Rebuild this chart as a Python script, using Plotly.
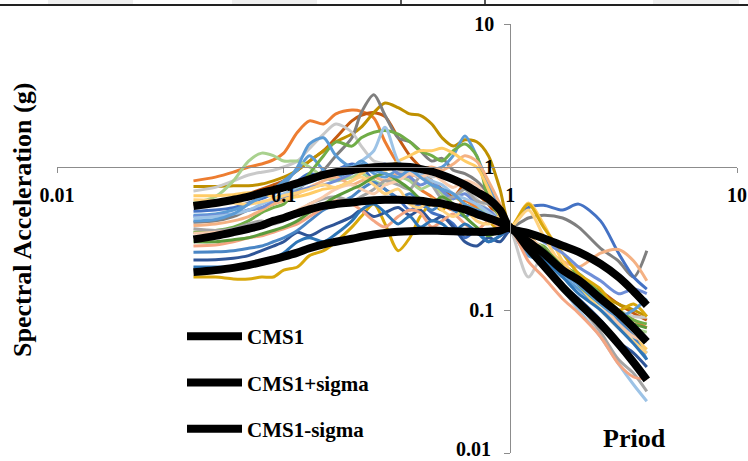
import plotly.graph_objects as go

# Periods (s)
periods = [0.04, 0.05, 0.06, 0.07, 0.08, 0.09, 0.1, 0.115, 0.13, 0.15, 0.17, 0.2, 0.22, 0.25, 0.28,
           0.32, 0.36, 0.4, 0.45, 0.5, 0.56, 0.63, 0.71, 0.8, 0.9, 1.0, 1.2, 1.4, 1.7, 2.0, 2.5,
           3.0, 3.5, 4.0]

# CMS curves (g)
cms1 = [0.312, 0.33, 0.35, 0.37, 0.39, 0.42, 0.44, 0.475, 0.505, 0.535, 0.55, 0.565, 0.575, 0.585,
        0.59, 0.59, 0.585, 0.58, 0.565, 0.555, 0.53, 0.505, 0.47, 0.44, 0.41, 0.375, 0.3, 0.25,
        0.19, 0.162, 0.12, 0.095, 0.075, 0.06]
cms1_plus = [0.534, 0.56, 0.59, 0.62, 0.66, 0.69, 0.72, 0.77, 0.82, 0.88, 0.92, 0.95, 0.975, 0.995,
             1.005, 1.01, 1.0, 0.97, 0.93, 0.88, 0.82, 0.75, 0.67, 0.6, 0.5, 0.375, 0.345, 0.318,
             0.282, 0.255, 0.21, 0.17, 0.135, 0.108]
cms1_minus = [0.184, 0.19, 0.197, 0.206, 0.216, 0.226, 0.236, 0.252, 0.27, 0.288, 0.3, 0.315, 0.325,
              0.337, 0.345, 0.352, 0.356, 0.358, 0.358, 0.357, 0.355, 0.353, 0.352, 0.352, 0.358,
              0.375, 0.27, 0.205, 0.145, 0.112, 0.08, 0.058, 0.043, 0.0325]

# Ground-motion record spectra (g)
rec01 = [0.80, 0.85, 0.92, 1.0, 1.05, 1.12, 1.25, 1.75, 2.1, 2.0, 2.35, 2.5, 2.45, 2.2, 1.5, 1.05,
         0.85, 0.7, 0.62, 0.55, 0.5, 0.58, 0.52, 0.45, 0.4, 0.37, 0.3, 0.24, 0.19, 0.16, 0.12, 0.1,
         0.085, 0.075]
rec02 = [0.55, 0.56, 0.6, 0.65, 0.7, 0.75, 0.8, 0.95, 1.1, 1.3, 1.6, 2.1, 2.3, 2.4, 2.25, 1.6, 1.2,
         1.0, 0.8, 0.7, 0.62, 0.75, 0.65, 0.55, 0.42, 0.37, 0.3, 0.27, 0.2, 0.16, 0.135, 0.11,
         0.095, 0.085]
rec03 = [0.73, 0.73, 0.74, 0.74, 0.76, 0.8, 0.85, 0.95, 1.1, 1.3, 1.5, 1.7, 1.9, 2.4, 2.8, 2.6,
         2.35, 2.3, 2.0, 1.6, 1.4, 1.55, 1.5, 1.2, 0.7, 0.38, 0.33, 0.26, 0.21, 0.17, 0.13, 0.11,
         0.1, 0.09]
rec04 = [0.41, 0.42, 0.45, 0.5, 0.52, 0.55, 0.6, 0.7, 0.8, 0.95, 1.2, 1.6, 2.4, 3.2, 2.3, 1.6, 1.5,
         1.3, 1.1, 1.15, 0.95, 0.9, 0.8, 0.65, 0.5, 0.38, 0.44, 0.46, 0.44, 0.38, 0.27, 0.22, 0.17,
         0.26]
rec05 = [0.49, 0.5, 0.52, 0.56, 0.6, 0.65, 0.7, 0.8, 0.9, 0.85, 0.95, 1.05, 1.0, 0.8, 0.7, 0.6, 0.5,
         0.55, 0.48, 0.45, 0.4, 0.32, 0.36, 0.3, 0.33, 0.37, 0.52, 0.54, 0.5, 0.55, 0.42, 0.25, 0.17,
         0.14]
rec06 = [0.46, 0.47, 0.5, 0.55, 0.62, 0.7, 0.8, 0.95, 1.2, 0.95, 0.85, 0.95, 1.05, 0.9, 0.85, 0.95,
         0.9, 0.85, 0.95, 1.0, 1.2, 1.65, 1.2, 0.75, 0.5, 0.37, 0.24, 0.22, 0.17, 0.14, 0.1, 0.075,
         0.06, 0.05]
rec07 = [0.68, 0.72, 0.8, 0.88, 0.92, 0.95, 1.0, 1.1, 1.35, 1.7, 2.0, 1.75, 1.4, 1.1, 1.05, 0.95,
         0.9, 0.95, 0.85, 0.9, 0.8, 0.75, 0.6, 0.5, 0.45, 0.37, 0.17, 0.24, 0.2, 0.17, 0.12, 0.1,
         0.09, 0.089]
rec08 = [0.56, 0.62, 0.8, 1.1, 1.25, 1.2, 1.1, 1.1, 1.0, 0.85, 0.8, 0.85, 0.9, 0.8, 0.75, 0.85, 0.8,
         0.7, 0.75, 0.65, 0.6, 0.7, 0.55, 0.45, 0.4, 0.37, 0.3, 0.25, 0.2, 0.15, 0.11, 0.09, 0.075,
         0.07]
rec09 = [0.35, 0.36, 0.38, 0.42, 0.48, 0.52, 0.55, 0.7, 0.9, 1.2, 1.5, 1.4, 1.6, 1.75, 1.8, 1.7,
         1.5, 1.3, 1.2, 1.1, 1.3, 1.45, 1.2, 0.6, 0.45, 0.37, 0.3, 0.28, 0.2, 0.18, 0.13, 0.1,
         0.085, 0.08]
rec10 = [0.39, 0.4, 0.42, 0.45, 0.5, 0.55, 0.58, 0.65, 0.72, 0.8, 0.85, 0.75, 0.8, 0.85, 0.8, 0.9,
         0.85, 0.95, 1.0, 0.95, 1.05, 1.2, 1.1, 0.8, 0.55, 0.38, 0.3, 0.27, 0.22, 0.2, 0.25, 0.265,
         0.22, 0.16]
rec11 = [0.63, 0.63, 0.64, 0.66, 0.65, 0.62, 0.6, 0.62, 0.65, 0.7, 0.72, 0.8, 0.9, 1.0, 0.95, 1.1,
         1.2, 1.3, 1.3, 1.35, 1.25, 1.1, 1.0, 0.7, 0.45, 0.38, 0.56, 0.4, 0.22, 0.16, 0.11, 0.085,
         0.065, 0.053]
rec12 = [0.17, 0.17, 0.165, 0.165, 0.17, 0.17, 0.19, 0.2, 0.24, 0.26, 0.3, 0.38, 0.45, 0.55, 0.4,
         0.26, 0.32, 0.45, 0.55, 0.5, 0.62, 0.55, 0.5, 0.42, 0.36, 0.37, 0.55, 0.38, 0.25, 0.18,
         0.14, 0.1, 0.11, 0.09]
rec13 = [0.224, 0.225, 0.23, 0.24, 0.26, 0.28, 0.3, 0.35, 0.33, 0.37, 0.4, 0.45, 0.5, 0.45, 0.48,
         0.52, 0.46, 0.5, 0.42, 0.45, 0.38, 0.3, 0.28, 0.32, 0.3, 0.36, 0.3, 0.22, 0.15, 0.12, 0.085,
         0.06, 0.05, 0.04]
rec14 = [0.253, 0.255, 0.26, 0.27, 0.28, 0.3, 0.32, 0.36, 0.42, 0.5, 0.55, 0.62, 0.7, 0.78, 0.7,
         0.6, 0.65, 0.58, 0.5, 0.55, 0.5, 0.45, 0.5, 0.45, 0.4, 0.37, 0.27, 0.25, 0.2, 0.16, 0.12,
         0.085, 0.065, 0.045]
rec15 = [0.45, 0.46, 0.47, 0.5, 0.52, 0.58, 0.62, 0.68, 0.72, 0.75, 0.8, 0.9, 1.0, 0.95, 1.05, 0.9,
         0.85, 0.75, 0.8, 0.68, 0.6, 0.65, 0.55, 0.5, 0.42, 0.37, 0.35, 0.3, 0.25, 0.2, 0.16, 0.13,
         0.14, 0.13]
rec16 = [0.44, 0.45, 0.47, 0.5, 0.55, 0.6, 0.65, 0.72, 0.78, 0.85, 0.9, 1.0, 1.1, 1.3, 1.9, 1.1,
         0.95, 0.9, 0.8, 0.75, 0.65, 0.6, 0.55, 0.48, 0.42, 0.37, 0.28, 0.21, 0.14, 0.1, 0.065,
         0.042, 0.03, 0.023]
rec17 = [0.37, 0.36, 0.37, 0.4, 0.42, 0.4, 0.42, 0.48, 0.55, 0.6, 0.62, 0.58, 0.62, 0.7, 0.8, 0.75,
         0.7, 0.85, 0.75, 0.6, 0.62, 0.7, 0.58, 0.55, 0.5, 0.38, 0.3, 0.22, 0.15, 0.11, 0.07,
         0.045, 0.036, 0.027]
rec18 = [0.28, 0.285, 0.3, 0.32, 0.33, 0.35, 0.37, 0.4, 0.45, 0.52, 0.58, 0.55, 0.5, 0.42, 0.38,
         0.45, 0.5, 0.48, 0.38, 0.42, 0.47, 0.4, 0.36, 0.42, 0.38, 0.37, 0.22, 0.17, 0.12, 0.095,
         0.065, 0.042, 0.034, 0.033]
rec19 = [0.344, 0.35, 0.36, 0.38, 0.4, 0.42, 0.45, 0.5, 0.55, 0.62, 0.7, 0.75, 0.7, 0.65, 0.75, 0.8,
         0.9, 0.85, 0.9, 0.8, 0.72, 0.8, 0.75, 0.6, 0.48, 0.38, 0.32, 0.27, 0.2, 0.16, 0.11, 0.08,
         0.065, 0.06]
rec20 = [0.59, 0.58, 0.56, 0.55, 0.57, 0.6, 0.63, 0.66, 0.7, 0.75, 0.72, 0.8, 0.85, 0.75, 0.65, 0.7,
         0.55, 0.52, 0.6, 0.5, 0.45, 0.5, 0.42, 0.4, 0.45, 0.38, 0.5, 0.33, 0.2, 0.15, 0.1, 0.075,
         0.06, 0.05]
rec21 = [0.3, 0.3, 0.31, 0.32, 0.34, 0.36, 0.38, 0.42, 0.48, 0.55, 0.62, 0.7, 0.75, 0.85, 0.9, 0.8,
         0.7, 0.6, 0.55, 0.62, 0.55, 0.45, 0.38, 0.33, 0.36, 0.37, 0.3, 0.27, 0.2, 0.15, 0.11, 0.09,
         0.08, 0.075]
rec22 = [0.42, 0.43, 0.47, 0.55, 0.62, 0.68, 0.75, 1.0, 1.45, 1.6, 1.2, 1.0, 1.1, 0.95, 0.9, 0.85,
         0.95, 0.85, 0.75, 0.7, 0.65, 0.55, 0.5, 0.45, 0.4, 0.37, 0.3, 0.25, 0.18, 0.15, 0.11, 0.09,
         0.1, 0.12]
rec23 = [0.2, 0.2, 0.2, 0.21, 0.22, 0.23, 0.25, 0.3, 0.32, 0.3, 0.34, 0.42, 0.5, 0.55, 0.48, 0.4,
         0.45, 0.38, 0.42, 0.4, 0.35, 0.4, 0.35, 0.3, 0.33, 0.37, 0.28, 0.23, 0.17, 0.13, 0.1, 0.075,
         0.058, 0.045]

records = [rec01, rec02, rec03, rec04, rec05, rec06, rec07, rec08, rec09, rec10, rec11, rec12,
           rec13, rec14, rec15, rec16, rec17, rec18, rec19, rec20, rec21, rec22, rec23]
record_colors = ["#ED7D31", "#C55A11", "#BF9000", "#7F7F7F", "#4472C4", "#5B9BD5", "#C9C9C9",
                 "#A9D18E", "#70AD47", "#F4B183", "#FFCC66", "#D9A80C", "#2F5597", "#4A86C5",
                 "#6F8FD8", "#9DC3E6", "#A5A5A5", "#F4A582", "#F8CBAD", "#FFD27F", "#5B9B3B",
                 "#5B9BD5", "#2E75B6"]

cms_names = ["CMS1", "CMS1+sigma", "CMS1-sigma"]
cms_series = [cms1, cms1_plus, cms1_minus]

x_tick_vals = [0.01, 0.1, 1, 10]
x_tick_text = ["0.01", "0.1", "1", "10"]
y_tick_vals = [0.01, 0.1, 1, 10]
# the lowest y label sits on the page edge; it is drawn as an annotation nudged inside
y_tick_text = ["", "0.1", "1", "10"]
y_bottom_label = "0.01"

SERIF = "Liberation Serif, Times New Roman, serif"

fig = go.Figure()
for vals, col in zip(records, record_colors):
    fig.add_trace(go.Scatter(x=periods, y=vals, mode="lines", showlegend=False,
                             line=dict(color=col, width=3, shape="spline", smoothing=0.8),
                             hoverinfo="skip"))
for i, (name, vals) in enumerate(zip(cms_names, cms_series)):
    fig.add_trace(go.Scatter(x=periods, y=vals, mode="lines", name=name, legendgroup=name,
                             line=dict(color="#000000", width=8, shape="spline", smoothing=1)))

W, H = 748, 461
ml, mr, mt, mb = 57, 11, 24, 8
pw, ph = W - ml - mr, H - mt - mb


def px_x(p):
    return (p - ml) / pw


def px_y(p):
    return (H - mb - p) / ph


axis_common = dict(type="log", range=[-2, 1], showgrid=False, zeroline=False, showline=True,
                   linecolor="#8C8C8C", linewidth=1, ticks="outside", tickcolor="#8C8C8C",
                   tickwidth=1, tickfont=dict(family=SERIF, size=20, color="#000000", weight="bold"),
                   anchor="free", position=2 / 3, automargin=False, ticklabeloverflow="allow",
                   layer="above traces")

fig.update_layout(
    template="none",
    width=W, height=H, margin=dict(l=ml, r=mr, t=mt, b=mb, autoexpand=False),
    paper_bgcolor="white", plot_bgcolor="white",
    xaxis=dict(axis_common, tickvals=x_tick_vals, ticktext=x_tick_text, ticklen=5,
               ticklabelstandoff=5),
    yaxis=dict(axis_common, tickvals=y_tick_vals, ticktext=y_tick_text, ticklen=6,
               ticklabelstandoff=6),
    legend=dict(x=px_x(182), y=px_y(316), xanchor="left", yanchor="top",
                bgcolor="rgba(0,0,0,0)", borderwidth=0,
                font=dict(family=SERIF, size=21, color="#000000", weight="bold"),
                traceorder="grouped", tracegroupgap=16, itemwidth=55),
    annotations=[
        dict(text="<b>Spectral Acceleration (g)</b>", xref="paper", yref="paper",
             x=px_x(23), y=px_y(220), xanchor="center", yanchor="middle", textangle=-90,
             showarrow=False, font=dict(family=SERIF, size=26, color="#000000")),
        dict(text="<b>Priod</b>", xref="paper", yref="paper", x=px_x(634), y=px_y(438),
             xanchor="center", yanchor="middle", showarrow=False,
             font=dict(family=SERIF, size=26, color="#000000")),
        dict(text="<b>" + y_bottom_label + "</b>", xref="paper", yref="y",
             x=px_x(493), y=-2, xanchor="right", yanchor="bottom", yshift=-9,
             showarrow=False, font=dict(family=SERIF, size=20, color="#000000")),
    ],
    shapes=[
        dict(type="rect", xref="paper", yref="paper", x0=px_x(48), x1=px_x(133), y0=px_y(4),
             y1=px_y(0), fillcolor="#EFEFEF", line=dict(width=0)),
        dict(type="rect", xref="paper", yref="paper", x0=px_x(232), x1=px_x(317), y0=px_y(4),
             y1=px_y(0), fillcolor="#EFEFEF", line=dict(width=0)),
        dict(type="rect", xref="paper", yref="paper", x0=px_x(653), x1=px_x(739), y0=px_y(4),
             y1=px_y(0), fillcolor="#EFEFEF", line=dict(width=0)),
        dict(type="line", xref="paper", yref="paper", x0=px_x(0), x1=px_x(748), y0=px_y(5),
             y1=px_y(5), line=dict(color="#222222", width=2)),
        dict(type="line", xref="paper", yref="paper", x0=px_x(401), x1=px_x(401), y0=px_y(5),
             y1=px_y(0), line=dict(color="#222222", width=1.5)),
        dict(type="line", xref="paper", yref="paper", x0=px_x(485), x1=px_x(485), y0=px_y(5),
             y1=px_y(0), line=dict(color="#222222", width=1.5)),
    ],
)

fig.write_html("out.html")
